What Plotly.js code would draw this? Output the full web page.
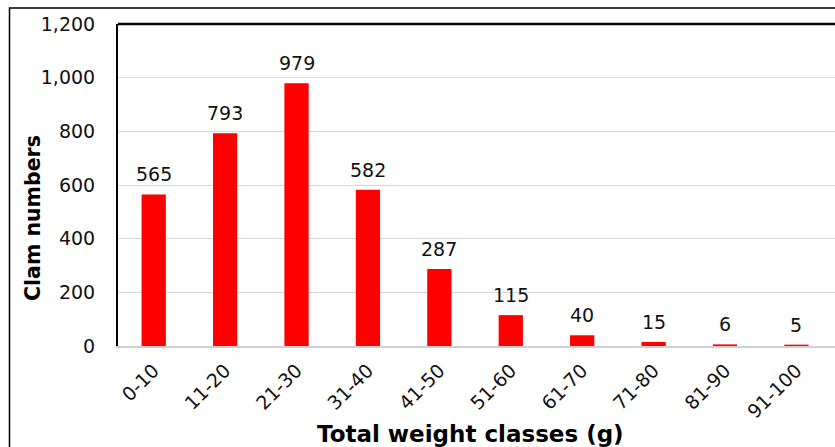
<!DOCTYPE html>
<html><head><meta charset="utf-8">
<script src="https://cdn.plot.ly/plotly-3.0.1.min.js"></script>
<style>html,body{margin:0;padding:0;background:#fff;}#chart{width:835px;height:447px;}</style>
</head><body><div id="chart"></div>
<script>
const categories = ["0-10","11-20","21-30","31-40","41-50","51-60","61-70","71-80","81-90","91-100"];
const clamCounts = [565, 793, 979, 582, 287, 115, 40, 15, 6, 5];
const yTickValues = [0, 200, 400, 600, 800, 1000, 1200];
const xTitle = "Total weight classes (g)";
const yTitle = "Clam numbers";

const font = "Verdana, 'DejaVu Sans', sans-serif";
const trace = {
  type: "bar",
  x: categories,
  y: clamCounts,
  marker: {color: "#ff0000"},
  hoverinfo: "x+y"
};
const labelAnnotations = categories.map((c, i) => ({
  x: c, y: clamCounts[i], xref: "x", yref: "y",
  text: String(clamCounts[i]), showarrow: false,
  yanchor: "bottom", yshift: 7,
  font: {family: font, size: 19, color: "#111"}
}));
const W = 717, H = 322;
const layout = {
  width: 835, height: 447,
  margin: {l: 118, r: 0, t: 24, b: 101, pad: 0},
  paper_bgcolor: "#fff", plot_bgcolor: "#fff",
  font: {family: font, size: 19, color: "#111"},
  separators: ".,",
  bargap: 0.66,
  showlegend: false,
  xaxis: {
    type: "category",
    range: [-0.5, 9.54],
    tickangle: -45,
    tickfont: {family: font, size: 19, color: "#111"},
    showline: true, linecolor: "#d0d0d0", linewidth: 2,
    ticks: "outside", ticklen: 4, tickcolor: "rgba(0,0,0,0)", showgrid: false
  },
  yaxis: {
    range: [0, 1200],
    tickvals: yTickValues,
    tickformat: ",d",
    tickfont: {family: font, size: 19, color: "#111"},
    showgrid: true, gridcolor: "#d9d9d9", gridwidth: 1,
    showline: true, linecolor: "#000", linewidth: 2,
    zeroline: false,
    ticks: "outside", ticklen: 17, tickcolor: "rgba(0,0,0,0)"
  },
  annotations: labelAnnotations.concat([
    {xref: "paper", yref: "paper", x: (33-118)/W, y: (346-218)/H, text: "<b>" + yTitle + "</b>",
     textangle: -90, showarrow: false, xanchor: "center", yanchor: "middle",
     font: {family: font, size: 20.5, color: "#000"}},
    {xref: "paper", yref: "paper", x: (470-118)/W, y: (346-434)/H, text: "<b>" + xTitle + "</b>",
     showarrow: false, xanchor: "center", yanchor: "middle",
     font: {family: font, size: 23, color: "#000"}}
  ]),
  shapes: [
    {type: "line", xref: "paper", yref: "paper", x0: 0, x1: 1.01, y0: 1, y1: 1, line: {color: "#000", width: 2.5}},
    {type: "rect", xref: "paper", yref: "paper", x0: (9.5-118)/W, x1: 1.05, y0: (346-8)/H, y1: -0.5, line: {color: "#000", width: 1.5}, fillcolor: "rgba(0,0,0,0)"}
  ]
};
Plotly.newPlot("chart", [trace], layout, {displayModeBar: false, staticPlot: true});
</script></body></html>
